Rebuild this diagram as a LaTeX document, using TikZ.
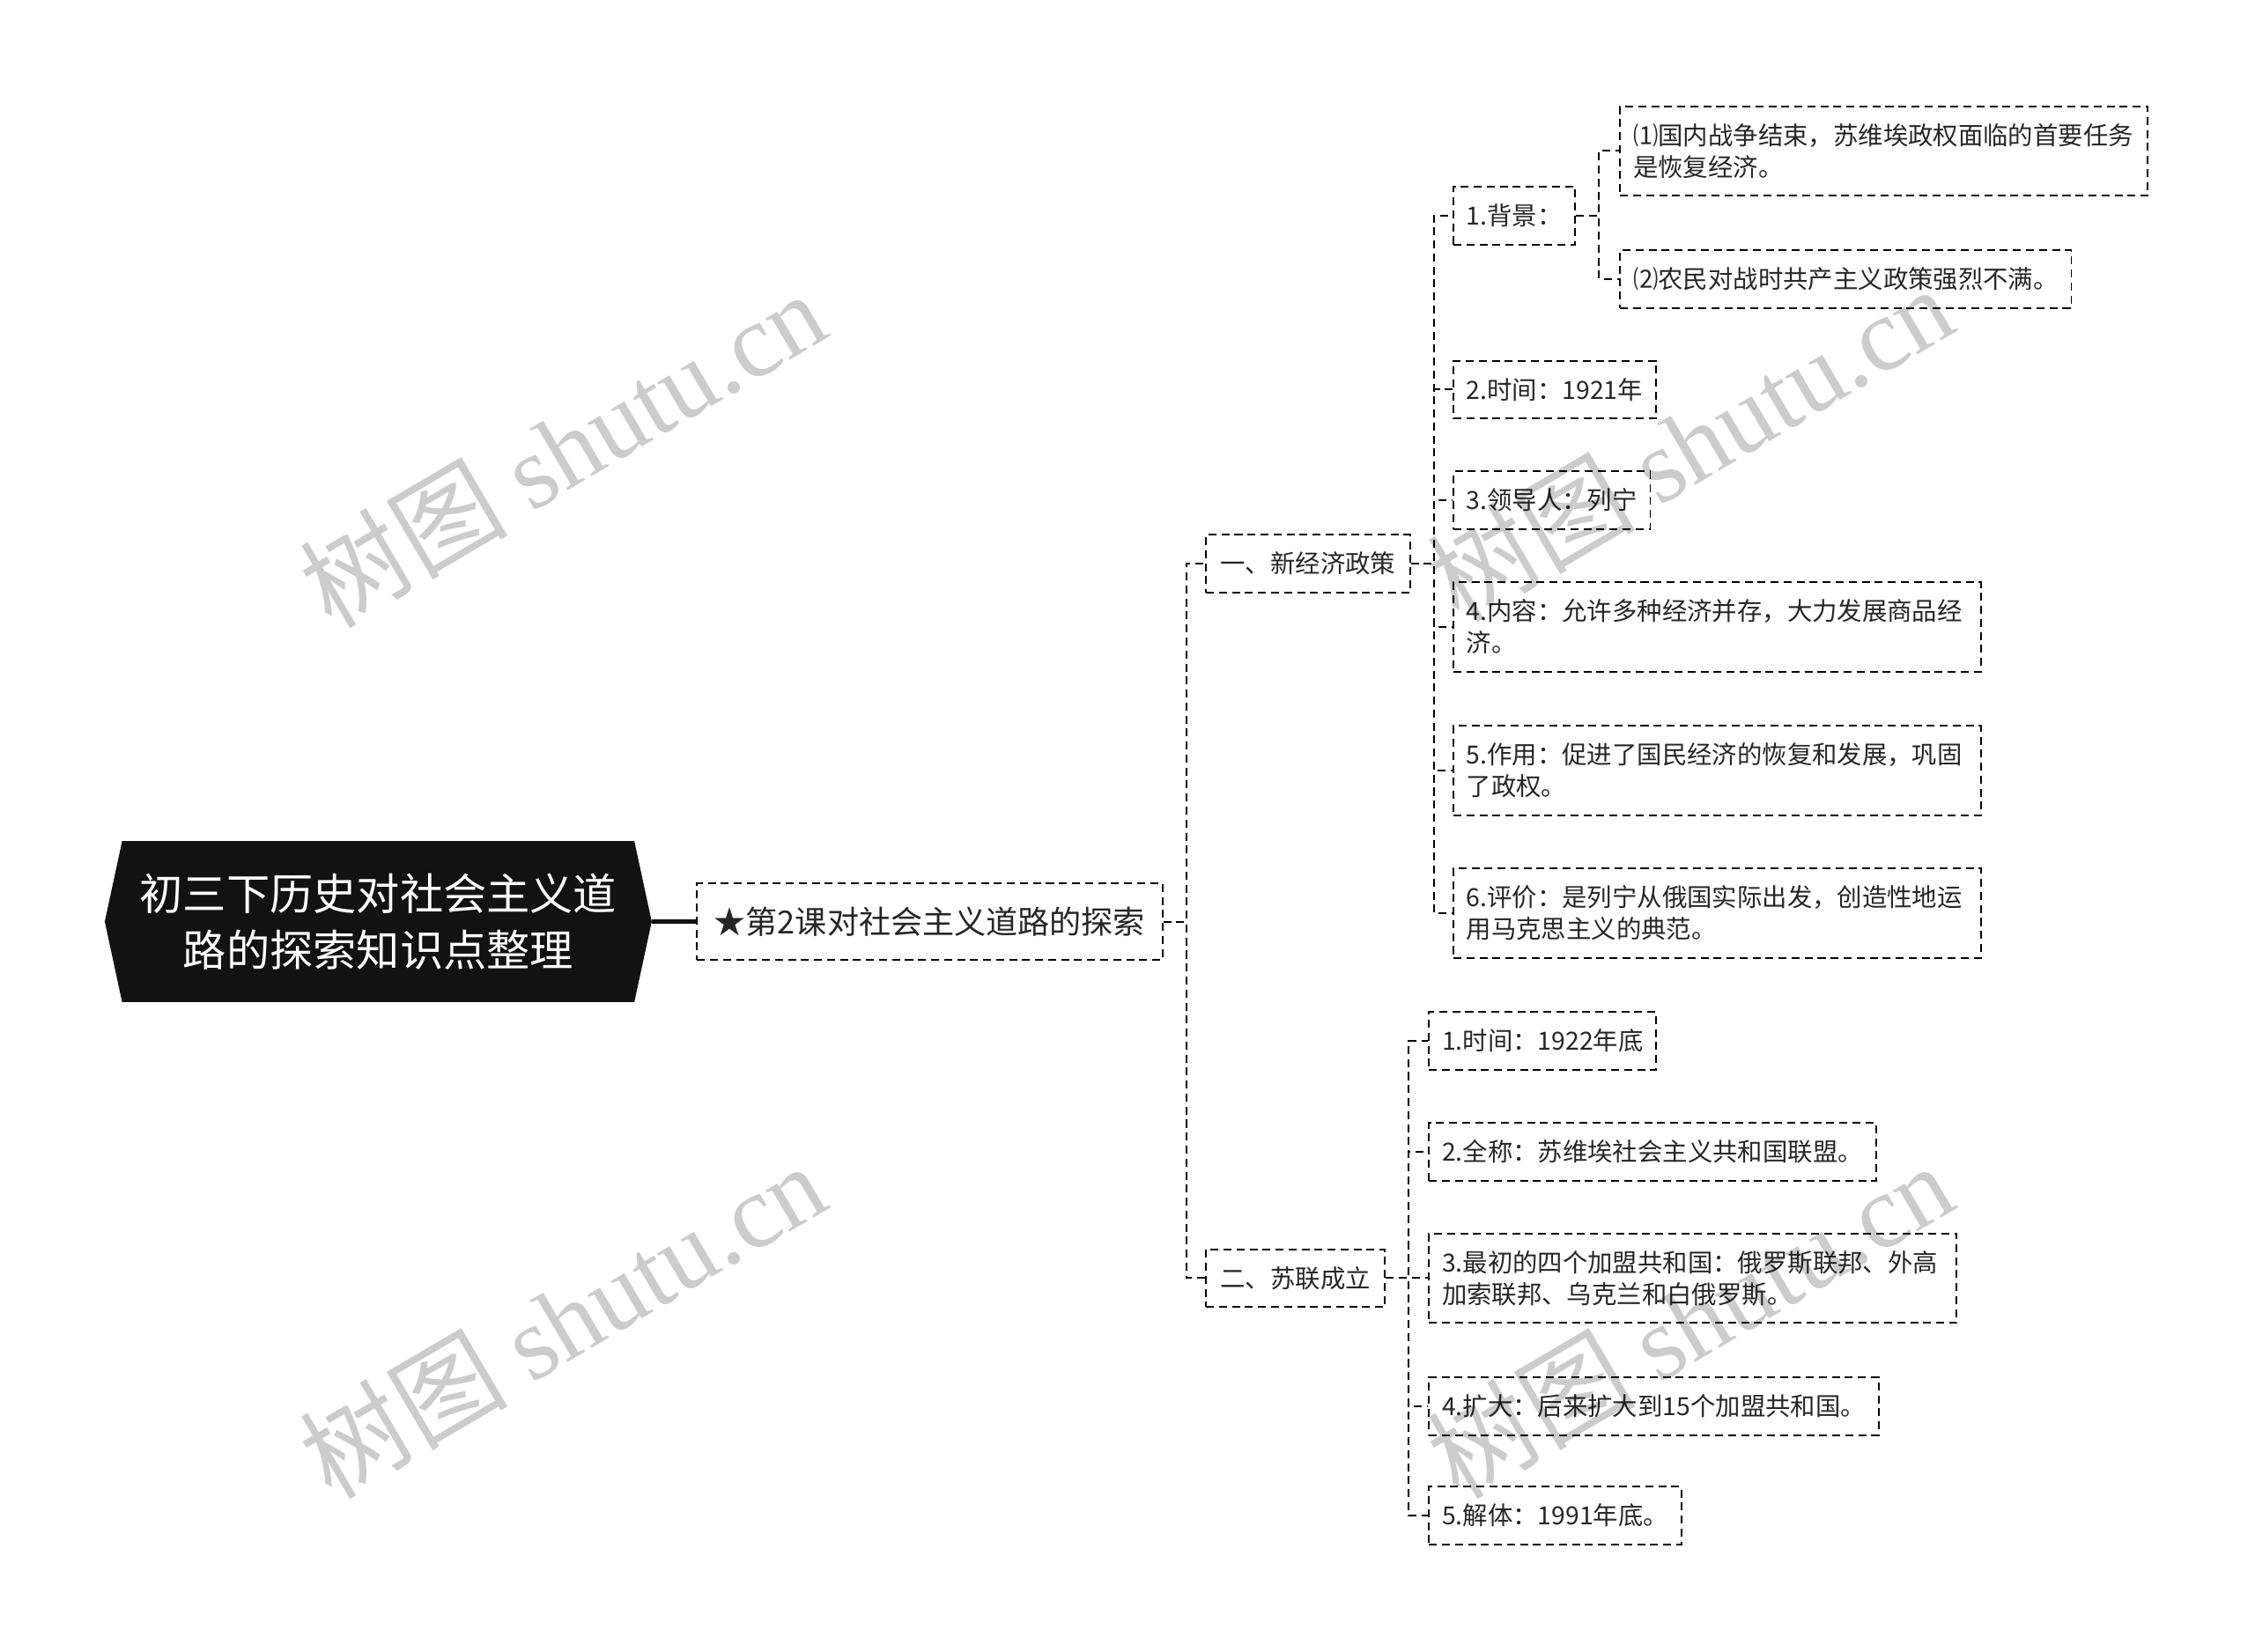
\documentclass[tikz,border=0pt]{standalone}
\usepackage{fontspec}
\setmainfont{Noto Sans CJK SC}
\newfontfamily\wmlatin{Liberation Serif}
\begin{document}
\begin{tikzpicture}[x=0.995pt,y=-0.995pt,
  conn/.style={draw=black, line width=1.2pt, dash pattern=on 5.5pt off 3.5pt},
  box/.style={draw=black, line width=1.2pt, dash pattern=on 5.5pt off 3.5pt, fill=white,
     anchor=west, inner xsep=9pt, inner ysep=0pt, minimum height=40pt, align=left,
     font=\fontsize{17.3}{22}\selectfont, text=black!85},
  twoline/.style={box, minimum height=62pt, text width=347pt},
  wm/.style={rotate=30.5, text=black, opacity=0.2, font=\fontsize{72}{72}\selectfont}
]
\fill[white] (0,0) rectangle (1568,1149);
\useasboundingbox (0,0) rectangle (1568,1149);
\begin{scope}[shift={(-1,0)}]
% root
\node[minimum width=378pt, minimum height=111pt, inner sep=0pt] (root) at (264,641) {};
\fill[black!93] (root.west) -- ([xshift=12pt]root.north west) -- ([xshift=-12pt]root.north east)
  -- (root.east) -- ([xshift=-12pt]root.south east) -- ([xshift=12pt]root.south west) -- cycle;
\node[text=white, align=center, font=\fontsize{30}{39}\selectfont] (roottext) at (root.center)
  {初三下历史对社会主义道\\路的探索知识点整理};

% level 1
\node[box, minimum height=53pt, minimum width=322pt, align=center, inner xsep=10pt,
  font=\fontsize{22}{26}\selectfont] (c1) at (485,641) {★第2课对社会主义道路的探索};

% level 2
\node[box, inner xsep=10pt] (a) at (839,392) {一、新经济政策};
\node[box, inner xsep=10pt] (b) at (839,889) {二、苏联成立};

% leaves of a
\node[box] (a1) at (1011,150) {1.背景：};
\node[box] (a2) at (1011,271) {2.时间：1921年};
\node[box] (a3) at (1011,348) {3.领导人：列宁};
\node[twoline] (a4) at (1011,436) {4.内容：允许多种经济并存，大力发展商品经\\济。};
\node[twoline] (a5) at (1011,536) {5.作用：促进了国民经济的恢复和发展，巩固\\了政权。};
\node[twoline] (a6) at (1011,635) {6.评价：是列宁从俄国实际出发，创造性地运\\用马克思主义的典范。};

% leaves of a1
\node[twoline] (a11) at (1127,105) {⑴国内战争结束，苏维埃政权面临的首要任务\\是恢复经济。};
\node[box] (a12) at (1127,194) {⑵农民对战时共产主义政策强烈不满。};

% leaves of b
\node[box] (b1) at (994,724) {1.时间：1922年底};
\node[box] (b2) at (994,801) {2.全称：苏维埃社会主义共和国联盟。};
\node[twoline] (b3) at (994,889) {3.最初的四个加盟共和国：俄罗斯联邦、外高\\加索联邦、乌克兰和白俄罗斯。};
\node[box] (b4) at (994,978) {4.扩大：后来扩大到15个加盟共和国。};
\node[box] (b5) at (994,1054) {5.解体：1991年底。};

% connectors
\draw[line width=3pt, black!93] (root.east) -- (c1.west);
\foreach \c in {a,b} \draw[conn] (c1.east) -- ++(16,0) |- (\c.west);
\foreach \c in {a1,a2,a3,a4,a5,a6} \draw[conn] (a.east) -- ++(16,0) |- (\c.west);
\foreach \c in {a11,a12} \draw[conn] (a1.east) -- ++(16,0) |- (\c.west);
\foreach \c in {b1,b2,b3,b4,b5} \draw[conn] (b.east) -- ++(16,0) |- (\c.west);

% watermarks
\node[wm] (wm1) at (392,312) {树图 {\wmlatin shutu.cn}};
\node[wm] (wm2) at (1176,308) {树图 {\wmlatin shutu.cn}};
\node[wm] (wm3) at (392,918) {树图 {\wmlatin shutu.cn}};
\node[wm] (wm4) at (1176,918) {树图 {\wmlatin shutu.cn}};
\end{scope}
\end{tikzpicture}
\end{document}
